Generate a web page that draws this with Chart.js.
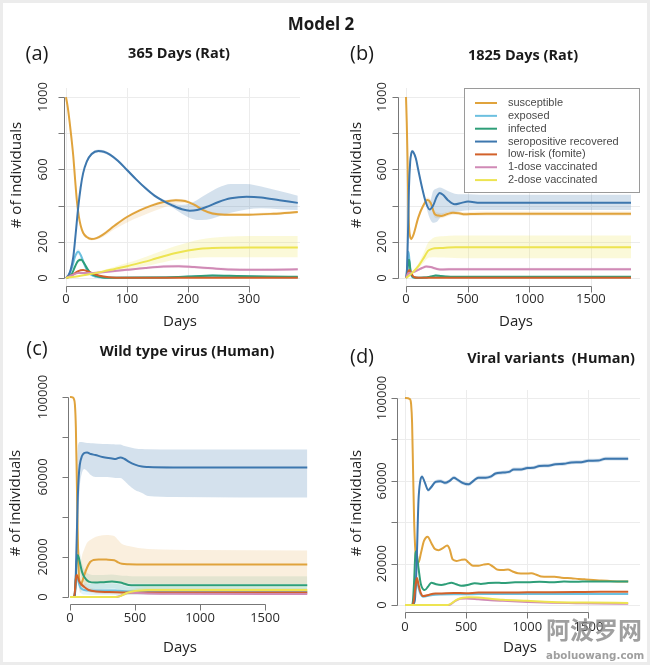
<!DOCTYPE html>
<html>
<head>
<meta charset="utf-8">
<script src="https://cdn.jsdelivr.net/npm/chart.js@4.4.0/dist/chart.umd.min.js"></script>
<style>
html,body{margin:0;padding:0;background:#fff;}
#page{position:relative;width:650px;height:665px;overflow:hidden;background:#fff;}
#frame{position:absolute;left:0;top:0;width:650px;height:665px;box-sizing:border-box;border:3px solid #ececec;pointer-events:none;}
canvas{position:absolute;left:0;top:0;}
.t{position:absolute;white-space:pre;transform:translate(-50%,-50%);font-family:'Open Sans',sans-serif;color:#1a1a1a;line-height:1;}
.b{font-weight:700;}
.wm{position:absolute;white-space:nowrap;color:rgba(135,135,135,0.8);line-height:1;font-weight:700;}
</style>
</head>
<body>
<div id="page">
  <canvas id="ca" width="650" height="665"></canvas>
  <canvas id="cb" width="650" height="665"></canvas>
  <canvas id="cc" width="650" height="665"></canvas>
  <canvas id="cd" width="650" height="665"></canvas>
  <div class="t b" style="left:321px;top:23px;font-size:17px;">Model 2</div>
  <div class="t" style="left:37px;top:53px;font-size:20px;">(a)</div>
  <div class="t b" style="left:179px;top:53px;font-size:14.5px;">365 Days (Rat)</div>
  <div class="t" style="left:362px;top:53px;font-size:20px;">(b)</div>
  <div class="t b" style="left:523px;top:55px;font-size:14.5px;">1825 Days (Rat)</div>
  <div class="t" style="left:37px;top:348px;font-size:20px;">(c)</div>
  <div class="t b" style="left:187px;top:351px;font-size:14.5px;">Wild type virus (Human)</div>
  <div class="t" style="left:362px;top:356px;font-size:20px;">(d)</div>
  <div class="t b" style="left:551px;top:358px;font-size:14.5px;">Viral variants  (Human)</div>
  <div class="wm" style="left:546px;top:617px;font-size:24px;font-family:'Noto Sans CJK SC',sans-serif;">阿波罗网</div>
  <div class="wm" style="left:546px;top:650px;font-size:10.3px;font-family:'DejaVu Sans',sans-serif;">aboluowang.com</div>
  <div id="frame"></div>
</div>
<script>
// ---------- series ----------
const SERIES = ['susceptible','exposed','infected','seropositive recovered','low-risk (fomite)','1-dose vaccinated','2-dose vaccinated'];
const COLORS = ['#E0A33C','#6CC0E0','#2E9E78','#3D77AE','#D2612A','#D08AB6','#EDE451'];
const BAND = ['rgba(224,163,60,0.17)','rgba(108,192,224,0.18)','rgba(46,158,120,0.13)','rgba(61,119,174,0.22)','rgba(210,97,42,0.15)','rgba(208,138,182,0.2)','rgba(237,228,81,0.22)'];

// ---------- tick values ----------
const RAT_Y_TICKS = [0,200,400,600,800,1000];
const RAT_Y_LABELED = [0,200,600,1000];
const HUM_Y_TICKS = [0,20000,40000,60000,80000,100000];
const HUM_Y_LABELED = [0,20000,60000,100000];
const A_X_TICKS = [0,100,200,300];
const LONG_X_TICKS = [0,500,1000,1500];

// ---------- panel (a) 365 days rat ----------
const A_S_DAYS = [0,3,6,9,12,15,18,21,24,28,34,42,50,60,80,100,120,140,160,180,195,210,225,240,260,300,340,380];
const A_S    = [1000,940,860,770,670,540,420,340,290,250,226,215,220,238,290,337,372,400,420,430,425,405,375,356,350,350,355,364];
const A_S_HI = [1000,944,866,778,678,548,428,348,298,258,234,223,228,246,298,345,380,408,428,438,433,413,383,364,358,358,363,372];
const A_S_LO = [1000,936,854,762,662,532,412,332,282,242,218,207,212,225,270,307,337,365,390,410,413,397,367,348,342,342,347,356];
const A_E_DAYS = [0,5,10,15,20,25,30,35,40,50,60,80,150,200,240,280,330,380];
const A_E    = [0,15,60,120,145,120,75,40,20,6,2,1,2,6,12,9,5,4];
const A_E_HI = [0,20,70,135,160,133,85,47,25,9,4,2,4,9,16,13,8,6];
const A_E_LO = [0,10,50,105,130,107,65,33,15,3,0,0,0,3,8,5,2,2];
const A_I    = [0,5,25,65,95,100,80,50,28,10,3,1,2,8,13,11,8,7];
const A_I_HI = [0,7,30,73,105,110,88,56,32,12,4,2,3,10,16,14,10,9];
const A_I_LO = [0,3,20,57,85,90,72,44,24,8,2,0,1,6,10,8,6,5];
const A_R_DAYS = [0,4,8,12,16,20,24,28,34,42,53,62,72,85,100,115,130,145,160,175,190,203,215,230,250,270,296,320,350,380];
const A_R    = [0,15,50,118,250,390,500,578,643,685,702,698,682,648,597,545,497,455,425,400,380,372,376,392,420,440,449,445,430,415];
const A_R_HI = [0,18,55,125,258,398,508,586,651,693,710,706,690,656,605,553,505,463,433,412,405,412,431,462,500,520,519,505,480,455];
const A_R_LO = [0,12,45,111,242,382,492,570,635,677,694,690,674,640,589,537,489,447,417,388,355,332,321,322,340,360,379,385,380,375];
const A_L_DAYS = [0,10,20,28,40,55,70,100,200,380];
const A_L    = [0,15,38,44,30,12,4,1,1,1];
const A_P_DAYS = [0,10,20,30,45,60,80,100,130,160,185,210,240,270,300,340,380];
const A_P    = [0,15,28,28,28,32,38,45,55,63,65,60,53,47,45,46,48];
const A_P_HI = [0,17,31,31,31,38,45,52,62,71,73,68,61,55,52,53,55];
const A_P_LO = [0,13,25,25,25,26,31,38,48,55,57,52,45,39,38,39,41];
const A_Y_DAYS = [0,20,40,60,80,100,120,140,160,180,200,220,240,260,300,380];
const A_Y    = [0,10,22,35,50,65,82,100,120,138,152,162,166,167,168,168];
const A_Y_HI = [0,11,25,42,62,82,104,128,153,177,196,212,222,228,232,232];
const A_Y_LO = [0,9,19,28,38,48,60,72,87,100,108,113,115,115,115,115];

// ---------- panel (b) 1825 days rat ----------
const B_S_DAYS = [0,6,12,18,24,34,42,60,100,140,173,200,232,260,286,330,381,430,476,550,650,800,1000,1825];
const B_S    = [1000,860,670,420,290,226,215,238,335,400,431,415,354,345,343,352,361,358,352,354,355,355,355,355];
const B_S_HI = [1000,866,678,428,298,234,223,246,345,412,445,432,372,362,358,365,372,368,364,366,367,367,367,367];
const B_S_LO = [1000,854,662,412,282,218,207,230,320,385,418,398,336,330,330,340,350,348,342,344,344,344,344,344];
const B_E_DAYS = [0,5,10,15,20,25,30,35,40,50,60,80,150,200,240,280,330,400,1825];
const B_E    = [0,15,60,120,145,120,75,40,20,6,2,1,2,6,12,9,5,4,4];
const B_I    = [0,5,25,65,95,100,80,50,28,10,3,1,2,8,13,11,8,7,7];
const B_R_DAYS = [0,8,16,24,34,42,49,60,80,100,130,160,192,220,250,273,300,340,395,450,503,600,800,1000,1825];
const B_R    = [0,50,250,500,643,685,700,695,660,595,500,420,378,400,450,470,460,430,407,415,422,416,416,416,416];
const B_R_HI = [0,58,258,508,651,693,708,703,668,603,508,430,420,480,495,500,495,480,465,462,462,460,460,460,460];
const B_R_LO = [0,42,242,492,635,677,692,687,652,587,492,405,330,305,310,330,350,362,365,370,374,376,376,376,376];
const B_L_DAYS = [0,10,20,28,40,55,70,100,200,1825];
const B_L    = [0,15,38,44,30,12,4,1,1,1];
const B_P_DAYS = [0,10,20,30,60,100,130,165,200,250,300,400,600,1825];
const B_P    = [0,15,28,28,32,45,55,63,60,50,47,48,48,48];
const B_P_HI = [0,17,31,31,38,52,62,71,68,58,55,56,56,56];
const B_P_LO = [0,13,25,25,26,38,48,55,52,42,39,40,40,40];
const B_Y_DAYS = [0,20,50,100,150,178,200,232,300,400,500,700,1825];
const B_Y    = [0,10,28,65,118,150,158,164,166,170,170,170,170];
const B_Y_HI = [0,11,32,80,150,195,210,225,230,234,234,234,234];
const B_Y_LO = [0,9,24,52,90,110,113,115,113,110,109,109,109];

// ---------- panel (c) wild type virus, human ----------
const C_S_DAYS = [0,20,30,38,45,52,60,68,78,90,110,130,155,180,220,280,340,370,400,450,600,1000,1825];
const C_S    = [100000,99800,99000,96000,85000,60000,30000,12000,5500,7000,11000,14500,17500,18500,18800,18700,18400,17300,16600,16400,16300,16300,16300];
const C_S_HI = [100000,99900,99500,98000,90000,70000,40000,20000,15000,20000,24000,27000,28500,29500,30500,31000,30500,28500,26500,25500,24000,23500,23200];
const C_S_LO = [100000,99600,98000,93000,78000,50000,20000,6000,2000,3000,5000,6500,7000,7200,7300,7300,7200,7000,6800,6700,6600,6500,6500];
const C_E_DAYS = [0,30,38,45,52,60,70,80,92,110,150,200,300,350,400,450,1825];
const C_E    = [0,0,3000,9000,10500,9000,6500,4800,4000,3500,3200,3200,3300,3200,3000,2700,2600];
const C_E_HI = [0,0,4000,11000,13000,11500,9000,7500,7000,6800,6500,6600,6800,6600,6000,5000,4800];
const C_E_LO = [0,0,2000,7000,8000,6500,4000,2500,1500,1200,1000,1000,1000,1000,1000,1000,1000];
const C_I_DAYS = [0,30,38,45,52,60,70,80,92,110,144,195,250,323,360,387,420,451,500,1825];
const C_I    = [0,0,2000,10000,18000,21000,19000,16000,12700,10000,7700,7200,7400,7700,7500,7200,6600,6000,5900,5900];
const C_I_HI = [0,0,3000,13000,22000,25000,24000,21000,17000,14000,11500,11000,11000,11200,11000,10800,10600,10500,10400,10400];
const C_I_LO = [0,0,1000,7000,14000,17000,14500,11500,9000,6500,4500,4000,4000,4200,4000,3500,3000,2800,2700,2700];
const C_R_DAYS = [0,35,40,45,50,55,60,67,75,92,110,131,160,195,250,323,350,387,420,451,500,554,600,800,1825];
const C_R    = [0,0,3000,12000,25000,38000,50000,60000,66000,70500,72000,72300,71500,71000,70000,69300,69000,69800,69000,67700,66200,65200,65000,64800,64800];
const C_R_HI = [0,0,4000,20000,45000,65000,74000,77000,77500,77500,77200,77000,76900,76800,76500,76400,76300,76300,75500,75000,74300,74000,73900,73800,73800];
const C_R_LO = [0,0,2000,6000,12000,22000,32000,45000,55000,62000,64000,63000,61000,60000,60000,59800,59500,59500,58000,56000,53500,52000,50500,50000,49700];
const C_L_DAYS = [0,30,38,45,52,60,70,92,120,144,200,300,400,450,1825];
const C_L    = [0,0,3000,9000,11000,10000,8000,6000,4500,3500,2800,2500,2300,2200,2200];
const C_L_HI = [0,0,4000,10500,12500,11500,9300,7200,5700,4700,4000,3700,3500,3400,3400];
const C_L_LO = [0,0,2000,7500,9500,8500,6800,5000,3500,2500,1800,1500,1300,1200,1200];
const C_P_DAYS = [0,350,380,420,460,520,600,800,1825];
const C_P    = [0,0,400,1500,2200,2000,1800,1600,1500];
const C_Y_DAYS = [0,350,380,410,450,500,540,600,1825];
const C_Y    = [0,0,300,1200,2300,3000,3300,3500,3500];
const C_Y_HI = [0,0,800,2200,3500,4300,4600,4800,4800];
const C_Y_LO = [0,0,0,500,1300,2000,2300,2500,2500];

// ---------- panel (d) viral variants, human ----------
const D_S_DAYS = [0,40,50,58,66,75,85,95,110,130,155,185,215,245,275,310,345,365,390,420,460,490,520,556,600,640,680,720,760,800,842,880,924,980,1033,1080,1114,1170,1223,1280,1360,1420,1469,1540,1605,1700,1825];
const D_S    = [100000,99500,97000,88000,65000,40000,26000,21000,20500,25000,31000,33000,30000,27000,26500,27500,28700,27000,22000,21300,21800,22000,20500,19000,19000,19500,19800,18500,17000,16900,17200,16200,15300,15200,15300,14500,13800,13700,13700,13200,12900,12600,12400,12100,11800,11500,11300];
const D_EL_DAYS = [0,60,70,80,90,98,110,125,150,200,250,300,400,500,600,800,1000,1200,1400,1600,1825];
const D_E    = [0,0,1500,5500,9500,11000,8500,5500,4000,4600,5000,5100,5200,5200,5300,5300,5300,5300,5300,5300,5300];
const D_L    = [0,0,1500,6000,11000,13000,10000,6500,4300,5000,5500,5600,5800,5700,6000,6000,6100,6200,6300,6400,6400];
const D_I_DAYS = [0,55,65,75,84,92,110,130,161,190,215,255,297,340,379,420,460,520,569,620,680,740,800,900,1000,1100,1200,1300,1400,1500,1600,1700,1825];
const D_I    = [0,0,2000,12000,24000,26000,18000,10000,7200,9000,10800,10000,9700,10200,10800,10000,9300,9800,10500,10200,10600,10800,10600,11000,11000,11200,11000,11300,11200,11400,11300,11400,11300];
const D_R_DAYS = [0,60,80,95,110,125,140,160,190,215,250,290,330,365,400,430,470,520,560,600,660,700,740,800,850,890,950,1000,1050,1100,1170,1230,1300,1360,1440,1500,1580,1640,1825];
const D_R    = [0,0,2000,20000,50000,60000,62000,59500,55500,57000,59500,59800,59000,60000,61500,60500,59000,58300,60000,61500,61500,62000,63500,64000,64300,65500,65500,66200,66300,67200,67300,68000,68200,68900,69000,69700,69800,70700,70700];
const D_P_DAYS = [0,360,400,450,500,600,700,800,1000,1200,1400,1600,1825];
const D_P    = [0,0,1500,3000,3200,2800,2300,2000,1500,1100,900,700,600];
const D_Y_DAYS = [0,350,380,420,470,520,600,700,800,1000,1200,1500,1825];
const D_Y    = [0,0,800,2500,3500,3800,3600,3000,2500,2000,1500,1200,1000];

// ---------- helpers ----------
function pts(d, v){ return d.map((x,i)=>({x:x, y:v[i]})); }
function line(k, d, v){
  return {label:SERIES[k], data:pts(d,v), borderColor:COLORS[k], backgroundColor:COLORS[k],
    borderWidth:2, pointRadius:0, fill:false, tension:0.4, cubicInterpolationMode:'monotone', order:10-k};
}
function band(k, d, hi, lo){
  return [
    {label:'_hi', data:pts(d,hi), borderColor:'rgba(0,0,0,0)', borderWidth:1, pointRadius:0, fill:false, tension:0.4, cubicInterpolationMode:'monotone', order:50},
    {label:'_lo', data:pts(d,lo), borderColor:'rgba(0,0,0,0)', backgroundColor:BAND[k], borderWidth:1, pointRadius:0, fill:'-1', tension:0.4, cubicInterpolationMode:'monotone', order:50}
  ];
}
function thinBand(k, d, v, w){
  return band(k, d, v.map(x=>x===0?0:x+w), v.map(x=>x===0?0:x-w));
}

// ---------- R-style axes plugin ----------
const AXES = {
  ca:{grid:true, xTicks:A_X_TICKS, yTicks:RAT_Y_TICKS, yLabeled:RAT_Y_LABELED, yLabelX:43, yTitleX:17, yTitleY:175, xLabelY:299, xTitleX:180, xTitleY:322},
  cb:{grid:true, xTicks:LONG_X_TICKS, yTicks:RAT_Y_TICKS, yLabeled:RAT_Y_LABELED, yLabelX:382, yTitleX:357, yTitleY:175, xLabelY:299, xTitleX:516, xTitleY:322, legend:{l:464,t:88,w:176,h:105,y0:103,dy:12.85}},
  cc:{grid:false, xTicks:LONG_X_TICKS, yTicks:HUM_Y_TICKS, yLabeled:HUM_Y_LABELED, yLabelX:43, yTitleX:16, yTitleY:503, xLabelY:618, xTitleX:180, xTitleY:648},
  cd:{grid:true, xTicks:LONG_X_TICKS, yTicks:HUM_Y_TICKS, yLabeled:HUM_Y_LABELED, yLabelX:382, yTitleX:357, yTitleY:503, xLabelY:627, xTitleX:520, xTitleY:648}
};
function seg(ctx,x1,y1,x2,y2){ ctx.beginPath(); ctx.moveTo(x1,y1); ctx.lineTo(x2,y2); ctx.stroke(); }
const rAxes = {
  id:'rAxes',
  beforeDatasetsDraw(chart){
    const c = AXES[chart.canvas.id]; if(!c || !c.grid) return;
    const ctx = chart.ctx, a = chart.chartArea, x = chart.scales.x, y = chart.scales.y;
    ctx.save(); ctx.strokeStyle = '#ececec'; ctx.lineWidth = 1;
    c.xTicks.forEach(v=>{ const px = Math.round(x.getPixelForValue(v))+0.5; seg(ctx,px,a.top,px,a.bottom); });
    c.yTicks.forEach(v=>{ const py = Math.round(y.getPixelForValue(v))+0.5; seg(ctx,a.left,py,a.right,py); });
    ctx.restore();
  },
  afterDraw(chart){
    const c = AXES[chart.canvas.id]; if(!c) return;
    const ctx = chart.ctx, a = chart.chartArea, x = chart.scales.x, y = chart.scales.y;
    ctx.save();
    ctx.strokeStyle = '#777'; ctx.lineWidth = 1;
    const ax = Math.round(a.left)+0.5;
    const y0 = y.getPixelForValue(c.yTicks[0]), y1 = y.getPixelForValue(c.yTicks[c.yTicks.length-1]);
    seg(ctx, ax, Math.round(y1)+0.5, ax, Math.round(y0)+0.5);
    c.yTicks.forEach(v=>{ const py = Math.round(y.getPixelForValue(v))+0.5; seg(ctx, ax-6, py, ax, py); });
    const ay = Math.round(a.bottom)-0.5;
    const x0 = x.getPixelForValue(c.xTicks[0]), x1 = x.getPixelForValue(c.xTicks[c.xTicks.length-1]);
    seg(ctx, Math.round(x0)+0.5, ay, Math.round(x1)+0.5, ay);
    c.xTicks.forEach(v=>{ const px = Math.round(x.getPixelForValue(v))+0.5; seg(ctx, px, ay, px, ay+6); });
    ctx.fillStyle = '#2b2b2b'; ctx.font = '13px "Open Sans"'; ctx.textAlign = 'center'; ctx.textBaseline = 'middle';
    c.xTicks.forEach(v=>{ ctx.fillText(String(v), x.getPixelForValue(v), c.xLabelY); });
    c.yLabeled.forEach(v=>{
      ctx.save(); ctx.translate(c.yLabelX, y.getPixelForValue(v)); ctx.rotate(-Math.PI/2);
      ctx.fillText(String(v), 0, 0); ctx.restore();
    });
    ctx.fillStyle = '#222'; ctx.font = '15px "Open Sans"';
    ctx.fillText('Days', c.xTitleX, c.xTitleY);
    ctx.save(); ctx.translate(c.yTitleX, c.yTitleY); ctx.rotate(-Math.PI/2);
    ctx.fillText('# of individuals', 0, 0); ctx.restore();
    if (c.legend){
      const L = c.legend;
      ctx.fillStyle = '#fff'; ctx.fillRect(L.l, L.t, L.w, L.h);
      ctx.strokeStyle = '#9a9a9a'; ctx.lineWidth = 1; ctx.strokeRect(L.l+0.5, L.t+0.5, L.w-1, L.h-1);
      ctx.font = '11px "Liberation Sans"'; ctx.textAlign = 'left'; ctx.textBaseline = 'middle';
      SERIES.forEach((s,i)=>{
        const yy = L.y0 + i*L.dy;
        ctx.strokeStyle = COLORS[i]; ctx.lineWidth = 2; seg(ctx, L.l+11, yy, L.l+33, yy);
        ctx.fillStyle = '#4a4a4a'; ctx.fillText(s, L.l+44, yy);
      });
    }
    ctx.restore();
  }
};

function make(id, area, xr, yr, datasets){
  return new Chart(document.getElementById(id), {
    type:'line',
    data:{datasets:datasets},
    options:{
      responsive:false, animation:false, events:[], devicePixelRatio:1,
      layout:{padding:{left:area[0], top:area[1], right:650-area[2], bottom:665-area[3]}},
      scales:{
        x:{type:'linear', display:false, min:xr[0], max:xr[1]},
        y:{type:'linear', display:false, min:yr[0], max:yr[1]}
      },
      plugins:{legend:{display:false}, tooltip:{enabled:false}, title:{display:false}}
    },
    plugins:[rAxes]
  });
}

make('ca', [64,88,300,287], [-3.3,383.6], [-50,1050], [
  ...band(3, A_R_DAYS, A_R_HI, A_R_LO),
  ...band(0, A_S_DAYS, A_S_HI, A_S_LO),
  ...band(6, A_Y_DAYS, A_Y_HI, A_Y_LO),
  ...band(5, A_P_DAYS, A_P_HI, A_P_LO),
  ...band(1, A_E_DAYS, A_E_HI, A_E_LO),
  ...band(2, A_E_DAYS, A_I_HI, A_I_LO),
  line(0, A_S_DAYS, A_S), line(1, A_E_DAYS, A_E), line(2, A_E_DAYS, A_I), line(3, A_R_DAYS, A_R),
  line(4, A_L_DAYS, A_L), line(5, A_P_DAYS, A_P), line(6, A_Y_DAYS, A_Y)
]);
make('cb', [398,88,640,287], [-65,1898], [-50,1050], [
  ...band(3, B_R_DAYS, B_R_HI, B_R_LO),
  ...band(0, B_S_DAYS, B_S_HI, B_S_LO),
  ...band(6, B_Y_DAYS, B_Y_HI, B_Y_LO),
  ...band(5, B_P_DAYS, B_P_HI, B_P_LO),
  line(0, B_S_DAYS, B_S), line(1, B_E_DAYS, B_E), line(2, B_E_DAYS, B_I), line(3, B_R_DAYS, B_R),
  line(4, B_L_DAYS, B_L), line(5, B_P_DAYS, B_P), line(6, B_Y_DAYS, B_Y)
]);
make('cc', [68,385,310,605], [-15.4,1846], [-4000,106000], [
  ...band(3, C_R_DAYS, C_R_HI, C_R_LO),
  ...band(0, C_S_DAYS, C_S_HI, C_S_LO),
  ...band(2, C_I_DAYS, C_I_HI, C_I_LO),
  ...band(1, C_E_DAYS, C_E_HI, C_E_LO),
  ...band(4, C_L_DAYS, C_L_HI, C_L_LO),
  ...band(6, C_Y_DAYS, C_Y_HI, C_Y_LO),
  line(0, C_S_DAYS, C_S), line(1, C_E_DAYS, C_E), line(2, C_I_DAYS, C_I), line(3, C_R_DAYS, C_R),
  line(4, C_L_DAYS, C_L), line(5, C_P_DAYS, C_P), line(6, C_Y_DAYS, C_Y)
]);
make('cd', [397,390,640,613], [-65.4,1921.5], [-3865,103865], [
  ...thinBand(3, D_R_DAYS, D_R, 900),
  line(0, D_S_DAYS, D_S), line(1, D_EL_DAYS, D_E), line(2, D_I_DAYS, D_I), line(3, D_R_DAYS, D_R),
  line(4, D_EL_DAYS, D_L), line(5, D_P_DAYS, D_P), line(6, D_Y_DAYS, D_Y)
]);
</script>
</body>
</html>
